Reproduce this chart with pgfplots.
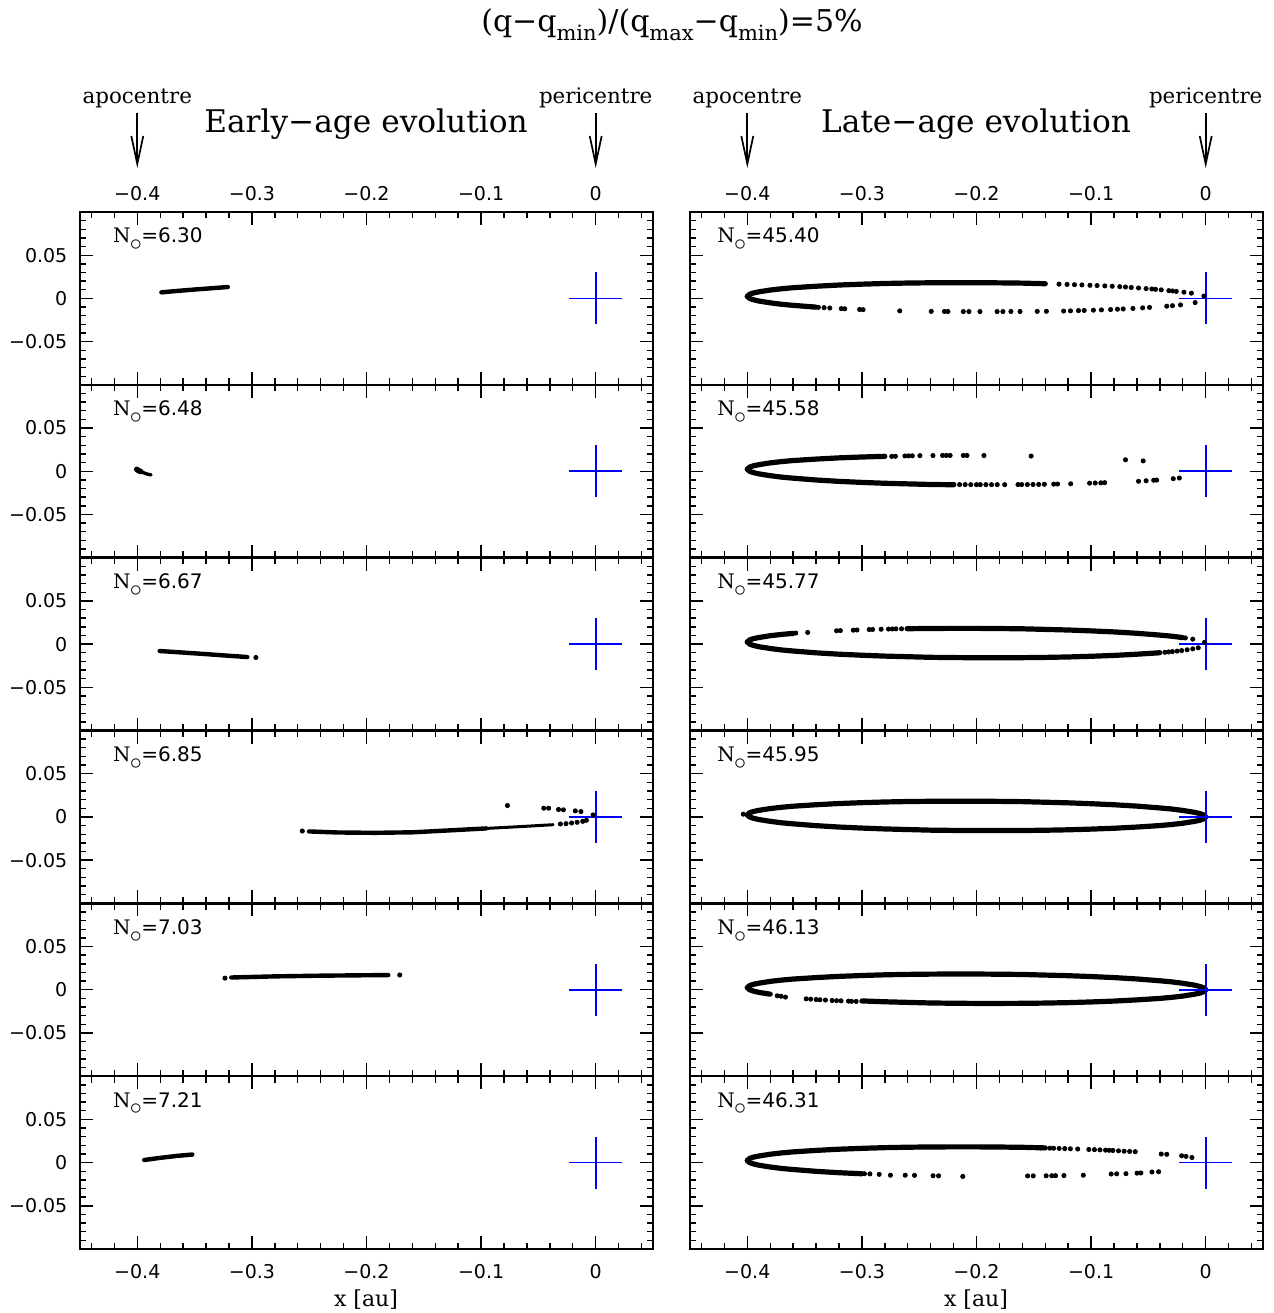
\documentclass[border=0pt]{standalone}
\usepackage{pgfplots}
\pgfplotsset{compat=1.18}
\usepackage{pgfplotstable}
\usetikzlibrary{arrows.meta}
\usepackage{fontspec}
\setmainfont{DejaVu Serif}
\newfontfamily\numfont{DejaVu Sans}

\newcommand\sub[1]{\raisebox{-0.3em}{\fontsize{10.5}{12}\selectfont #1}}
\newcommand\Nlab[1]{N\kern-0.3pt\raisebox{-0.75ex}{\fontsize{12}{12}\selectfont$\circ$}\kern-0.3pt{\numfont =#1}}

\pgfplotstableread{
x yt yb
-0.400 0.0024 0.0024
-0.398 0.0048 0.0000
-0.395 0.0062 -0.0014
-0.390 0.0076 -0.0030
-0.380 0.0097 -0.0051
-0.370 0.0112 -0.0068
-0.360 0.0124 -0.0080
-0.340 0.0141 -0.0101
-0.320 0.0155 -0.0117
-0.300 0.0165 -0.0129
-0.280 0.0173 -0.0139
-0.260 0.0178 -0.0146
-0.240 0.0181 -0.0153
-0.220 0.0182 -0.0156
-0.200 0.0182 -0.0158
-0.180 0.0180 -0.0158
-0.160 0.0177 -0.0157
-0.140 0.0170 -0.0154
-0.120 0.0163 -0.0149
-0.100 0.0153 -0.0141
-0.080 0.0141 -0.0131
-0.060 0.0125 -0.0117
-0.040 0.0104 -0.0100
-0.030 0.0092 -0.0088
-0.020 0.0075 -0.0073
-0.010 0.0054 -0.0052
-0.005 0.0038 -0.0038
-0.002 0.0024 -0.0024
0.000 0.0000 0.0000
}\orbit

\pgfplotsset{
  panel/.style={
    scale only axis, width=286.5pt, height=86.417pt,
    anchor=north west,
    xmin=-0.45, xmax=0.05, ymin=-0.1, ymax=0.1,
    xtick={-0.4,-0.3,-0.2,-0.1,0},
    ytick={-0.05,0,0.05},
    minor xtick={-0.44,-0.42,-0.38,-0.36,-0.34,-0.32,-0.28,-0.26,-0.24,-0.22,-0.18,-0.16,-0.14,-0.12,-0.08,-0.06,-0.04,-0.02,0.02,0.04},
    minor ytick={-0.09,-0.08,-0.07,-0.06,-0.04,-0.03,-0.02,-0.01,0.01,0.02,0.03,0.04,0.06,0.07,0.08,0.09},
    xticklabels={}, yticklabels={},
    tick align=inside,
    major tick length=6.5pt, minor tick length=3.2pt,
    every tick/.style={black, line width=0.7pt},
    axis line style={line width=1.2pt},
    ticklabel style={font=\numfont\fontsize{9.5}{11}\selectfont},
    yticklabel style={xshift=-2.8pt},
  },
  leftcol/.style={yticklabels={−0.05,0,0.05}},
  toprow/.style={xticklabel pos=upper, xticklabels={−0.4,−0.3,−0.2,−0.1,0}, xticklabel style={yshift=2.3pt}},
  botrow/.style={xticklabels={−0.4,−0.3,−0.2,−0.1,0}, xticklabel style={yshift=-4.3pt}},
  arc/.style={black, line width=2.6pt, line cap=round, line join=round, no markers},
  streak/.style={black, line width=2.2pt, line cap=round, line join=round, no markers},
  dots/.style={only marks, mark=*, mark size=1.05pt, black},
  cross/.style={blue, line width=0.8pt, no markers},
}
\newcommand\crossplot{%
  \addplot[cross] coordinates {(-0.023,0) (0.023,0)};
  \addplot[cross] coordinates {(0,-0.03) (0,0.03)};}
\newcommand\labL[1]{\node[anchor=base west, inner sep=0pt, font=\fontsize{10}{12}\selectfont] at (rel axis cs:0.057,0.821) {\Nlab{#1}};}
\newcommand\labR[1]{\node[anchor=base west, inner sep=0pt, font=\fontsize{10}{12}\selectfont] at (rel axis cs:0.047,0.821) {\Nlab{#1}};}

\begin{document}
\begin{tikzpicture}
\useasboundingbox (0pt,0pt) rectangle (637pt,-656.5pt);

\node[font=\fontsize{15}{18}\selectfont] at (336pt,-12.5pt) {(q−q\sub{min})/(q\sub{max}−q\sub{min})=5\%};
\node[font=\fontsize{15.6}{18}\selectfont] at (183pt,-62pt) {Early−age evolution};
\node[font=\fontsize{15.6}{18}\selectfont] at (488pt,-62pt) {Late−age evolution};
\foreach \xx/\tt in {68.65/apocentre, 297.85/pericentre, 373.65/apocentre, 602.85/pericentre}{
  \node[font=\fontsize{10.7}{12}\selectfont] at (\xx pt,-49pt) {\tt};
  \draw[line width=0.85pt, -{Straight Barb[length=14pt,width=6pt]}] (\xx pt,-56.5pt) -- (\xx pt,-84pt);
}
\node[font=\fontsize{11}{13}\selectfont, anchor=base] at (183pt,-653pt) {x [au]};
\node[font=\fontsize{11}{13}\selectfont, anchor=base] at (488pt,-653pt) {x [au]};

% ---------------- LEFT COLUMN ----------------
\begin{axis}[panel, leftcol, toprow, at={(40pt,-106pt)}]
\addplot[streak] coordinates {(-0.379,0.0070) (-0.365,0.0087) (-0.350,0.0103) (-0.335,0.0118) (-0.321,0.0132)};
\crossplot
\labL{6.30}
\end{axis}

\begin{axis}[panel, leftcol, at={(40pt,-192.417pt)}]
\addplot[streak, line width=2.8pt] coordinates {(-0.4005,0.0022) (-0.399,0.0008) (-0.397,-0.0004)};
\addplot[streak, line width=1.7pt] coordinates {(-0.397,-0.0004) (-0.394,-0.0020) (-0.391,-0.0034) (-0.388,-0.0042)};
\crossplot
\labL{6.48}
\end{axis}

\begin{axis}[panel, leftcol, at={(40pt,-278.833pt)}]
\addplot[streak] coordinates {(-0.3805,-0.0080) (-0.360,-0.0098) (-0.340,-0.0116) (-0.320,-0.0135) (-0.304,-0.0150)};
\addplot[dots] coordinates {(-0.2965,-0.0155)};
\crossplot
\labL{6.67}
\end{axis}

\begin{axis}[panel, leftcol, at={(40pt,-365.25pt)}]
\addplot[streak] coordinates {(-0.2502,-0.0168) (-0.225,-0.0180) (-0.1926,-0.0184) (-0.160,-0.0178) (-0.128,-0.0156) (-0.0955,-0.0133)};
\addplot[streak, line width=1.5pt] coordinates {(-0.0955,-0.0133) (-0.063,-0.0110) (-0.0372,-0.0090)};
\addplot[dots] coordinates {(-0.256,-0.0163) (-0.0308,-0.0082) (-0.0259,-0.0078) (-0.021,-0.0070) (-0.0162,-0.0062) (-0.0113,-0.0051) (-0.0081,-0.0039)
 (-0.077,0.0132) (-0.0453,0.0101) (-0.0411,0.0101) (-0.0324,0.0086) (-0.0282,0.0082) (-0.0178,0.0070) (-0.0129,0.0062) (-0.0023,0.0023)};
\crossplot
\labL{6.85}
\end{axis}

\begin{axis}[panel, leftcol, at={(40pt,-451.667pt)}]
\addplot[streak] coordinates {(-0.318,0.0142) (-0.280,0.0155) (-0.240,0.0163) (-0.200,0.0168) (-0.181,0.0170)};
\addplot[dots] coordinates {(-0.3235,0.0135) (-0.171,0.0171)};
\crossplot
\labL{7.03}
\end{axis}

\begin{axis}[panel, leftcol, botrow, at={(40pt,-538.083pt)}]
\addplot[streak] coordinates {(-0.394,0.0030) (-0.380,0.0055) (-0.365,0.0078) (-0.352,0.0093)};
\crossplot
\labL{7.21}
\end{axis}

% ---------------- RIGHT COLUMN ----------------
\begin{axis}[panel, toprow, at={(345pt,-106pt)}]
\addplot[arc, restrict x to domain=-0.401:-0.139] table[x=x,y=yt] {\orbit};
\addplot[arc, restrict x to domain=-0.401:-0.339] table[x=x,y=yb] {\orbit};
\addplot[dots] coordinates {(-0.128,0.0165) (-0.121,0.0162) (-0.1145,0.0159) (-0.108,0.0156) (-0.101,0.0152) (-0.0948,0.0149) (-0.088,0.0145) (-0.0816,0.0141) (-0.075,0.0136) (-0.070,0.0132) (-0.065,0.0127) (-0.0586,0.0121) (-0.052,0.0114) (-0.047,0.0109) (-0.0438,0.0105) (-0.0388,0.0099) (-0.0322,0.0090) (-0.029,0.0086) (-0.0257,0.0081) (-0.019,0.0072) (-0.0125,0.0061) (-0.0016,0.0027)};
\addplot[dots] coordinates {(-0.348,-0.0093) (-0.343,-0.0098) (-0.338,-0.0103) (-0.333,-0.0107) (-0.328,-0.0111) (-0.318,-0.0118) (-0.315,-0.0120) (-0.302,-0.0128) (-0.299,-0.0130) (-0.267,-0.0144) (-0.2395,-0.0150) (-0.228,-0.0151) (-0.225,-0.0151) (-0.2115,-0.0152) (-0.2066,-0.0152) (-0.197,-0.0152) (-0.182,-0.0152) (-0.177,-0.0152) (-0.170,-0.0151) (-0.162,-0.0151) (-0.147,-0.0150) (-0.139,-0.0149) (-0.124,-0.0146) (-0.118,-0.0144) (-0.111,-0.0141) (-0.106,-0.0139) (-0.098,-0.0136) (-0.091,-0.0133) (-0.083,-0.0129) (-0.077,-0.0125) (-0.072,-0.0122) (-0.0635,-0.0116) (-0.055,-0.0109) (-0.049,-0.0104) (-0.034,-0.0090) (-0.029,-0.0084) (-0.022,-0.0075) (-0.0092,-0.0048)};
\crossplot
\labR{45.40}
\end{axis}

\begin{axis}[panel, at={(345pt,-192.417pt)}]
\addplot[arc, restrict x to domain=-0.401:-0.279] table[x=x,y=yt] {\orbit};
\addplot[arc, restrict x to domain=-0.401:-0.219] table[x=x,y=yb] {\orbit};
\addplot[dots] coordinates {(-0.274,0.0172) (-0.2708,0.0173) (-0.2625,0.0177) (-0.2593,0.0178) (-0.256,0.0179) (-0.2494,0.0181) (-0.238,0.0182) (-0.2296,0.0183) (-0.2263,0.0183) (-0.223,0.0183) (-0.2115,0.0183) (-0.2083,0.0183) (-0.1935,0.0182) (-0.1523,0.0176) (-0.070,0.0133) (-0.0546,0.0120)};
\addplot[dots] coordinates {(-0.2198,-0.0153) (-0.2148,-0.0154) (-0.2099,-0.0154) (-0.205,-0.0155) (-0.200,-0.0155) (-0.1967,-0.0155) (-0.1918,-0.0155) (-0.1869,-0.0155) (-0.1819,-0.0155) (-0.1754,-0.0155) (-0.1638,-0.0154) (-0.1606,-0.0154) (-0.1556,-0.0153) (-0.1507,-0.0153) (-0.1457,-0.0152) (-0.1408,-0.0151) (-0.1326,-0.0149) (-0.1293,-0.0148) (-0.1178,-0.0145) (-0.1013,-0.0138) (-0.0964,-0.0136) (-0.0915,-0.0134) (-0.0882,-0.0132) (-0.0586,-0.0116) (-0.052,-0.0110) (-0.0454,-0.0104) (-0.0428,-0.0102) (-0.0283,-0.0086) (-0.023,-0.0078)};
\crossplot
\labR{45.58}
\end{axis}

\begin{axis}[panel, at={(345pt,-278.833pt)}]
\addplot[arc, restrict x to domain=-0.401:-0.359] table[x=x,y=yt] {\orbit};
\addplot[arc, restrict x to domain=-0.261:-0.019] table[x=x,y=yt] {\orbit};
\addplot[arc, restrict x to domain=-0.401:-0.039] table[x=x,y=yb] {\orbit};
\addplot[dots] coordinates {(-0.3577,0.0128) (-0.3473,0.0135) (-0.3221,0.0154) (-0.3188,0.0156) (-0.3075,0.0161) (-0.3043,0.0163) (-0.2936,0.0168) (-0.2907,0.0169) (-0.2832,0.0172) (-0.2768,0.0174) (-0.2735,0.0175) (-0.2703,0.0176) (-0.2654,0.0177) (-0.2606,0.0178) (-0.0178,0.0071) (-0.0113,0.0057) (-0.0010,0.0020)};
\addplot[dots] coordinates {(-0.0356,-0.0095) (-0.0324,-0.0091) (-0.0291,-0.0087) (-0.0249,-0.0081) (-0.021,-0.0075) (-0.0162,-0.0066) (-0.0113,-0.0055) (-0.0065,-0.0043)};
\crossplot
\labR{45.77}
\end{axis}

\begin{axis}[panel, at={(345pt,-365.25pt)}]
\addplot[arc] table[x=x,y=yt] {\orbit};
\addplot[arc] table[x=x,y=yb] {\orbit};
\addplot[dots] coordinates {(-0.4035,0.0032)};
\crossplot
\labR{45.95}
\end{axis}

\begin{axis}[panel, at={(345pt,-451.667pt)}]
\addplot[arc] table[x=x,y=yt] {\orbit};
\addplot[arc, restrict x to domain=-0.401:-0.379] table[x=x,y=yb] {\orbit};
\addplot[arc, restrict x to domain=-0.301:0.001] table[x=x,y=yb] {\orbit};
\addplot[dots] coordinates {(-0.3739,-0.0070) (-0.3706,-0.0075) (-0.3667,-0.0085) (-0.3486,-0.0105) (-0.3447,-0.0108) (-0.3399,-0.0113) (-0.3366,-0.0116) (-0.3318,-0.0119) (-0.326,-0.0124) (-0.3221,-0.0126) (-0.3182,-0.0128) (-0.3117,-0.0132) (-0.3091,-0.0134) (-0.305,-0.0135)};
\crossplot
\labR{46.13}
\end{axis}

\begin{axis}[panel, botrow, at={(345pt,-538.083pt)}]
\addplot[arc, restrict x to domain=-0.401:-0.139] table[x=x,y=yt] {\orbit};
\addplot[arc, restrict x to domain=-0.401:-0.299] table[x=x,y=yb] {\orbit};
\addplot[dots] coordinates {(-0.144,0.0170) (-0.136,0.0167) (-0.1327,0.0166) (-0.1279,0.0164) (-0.123,0.0162) (-0.1181,0.0160) (-0.1117,0.0157) (-0.102,0.0152) (-0.0971,0.0150) (-0.0923,0.0147) (-0.0874,0.0144) (-0.0842,0.0142) (-0.081,0.0140) (-0.0761,0.0136) (-0.0712,0.0132) (-0.0664,0.0129) (-0.0615,0.0126) (-0.0388,0.0099) (-0.034,0.0096) (-0.021,0.0079) (-0.0172,0.0072) (-0.012,0.0059)};
\addplot[dots] coordinates {(-0.3075,-0.0126) (-0.3043,-0.0127) (-0.301,-0.0128) (-0.2978,-0.0129) (-0.293,-0.0131) (-0.2849,-0.0136) (-0.2751,-0.0146) (-0.2622,-0.0146) (-0.2541,-0.0148) (-0.2379,-0.0152) (-0.2331,-0.0153) (-0.212,-0.0160) (-0.1554,-0.0154) (-0.1505,-0.0154) (-0.1392,-0.0153) (-0.1343,-0.0152) (-0.1311,-0.0151) (-0.1237,-0.0150) (-0.1068,-0.0146) (-0.0825,-0.0132) (-0.0777,-0.0130) (-0.0696,-0.0128) (-0.0599,-0.0122) (-0.0566,-0.0120) (-0.0469,-0.0109) (-0.0411,-0.0106)};
\crossplot
\labR{46.31}
\end{axis}

\end{tikzpicture}
\end{document}
